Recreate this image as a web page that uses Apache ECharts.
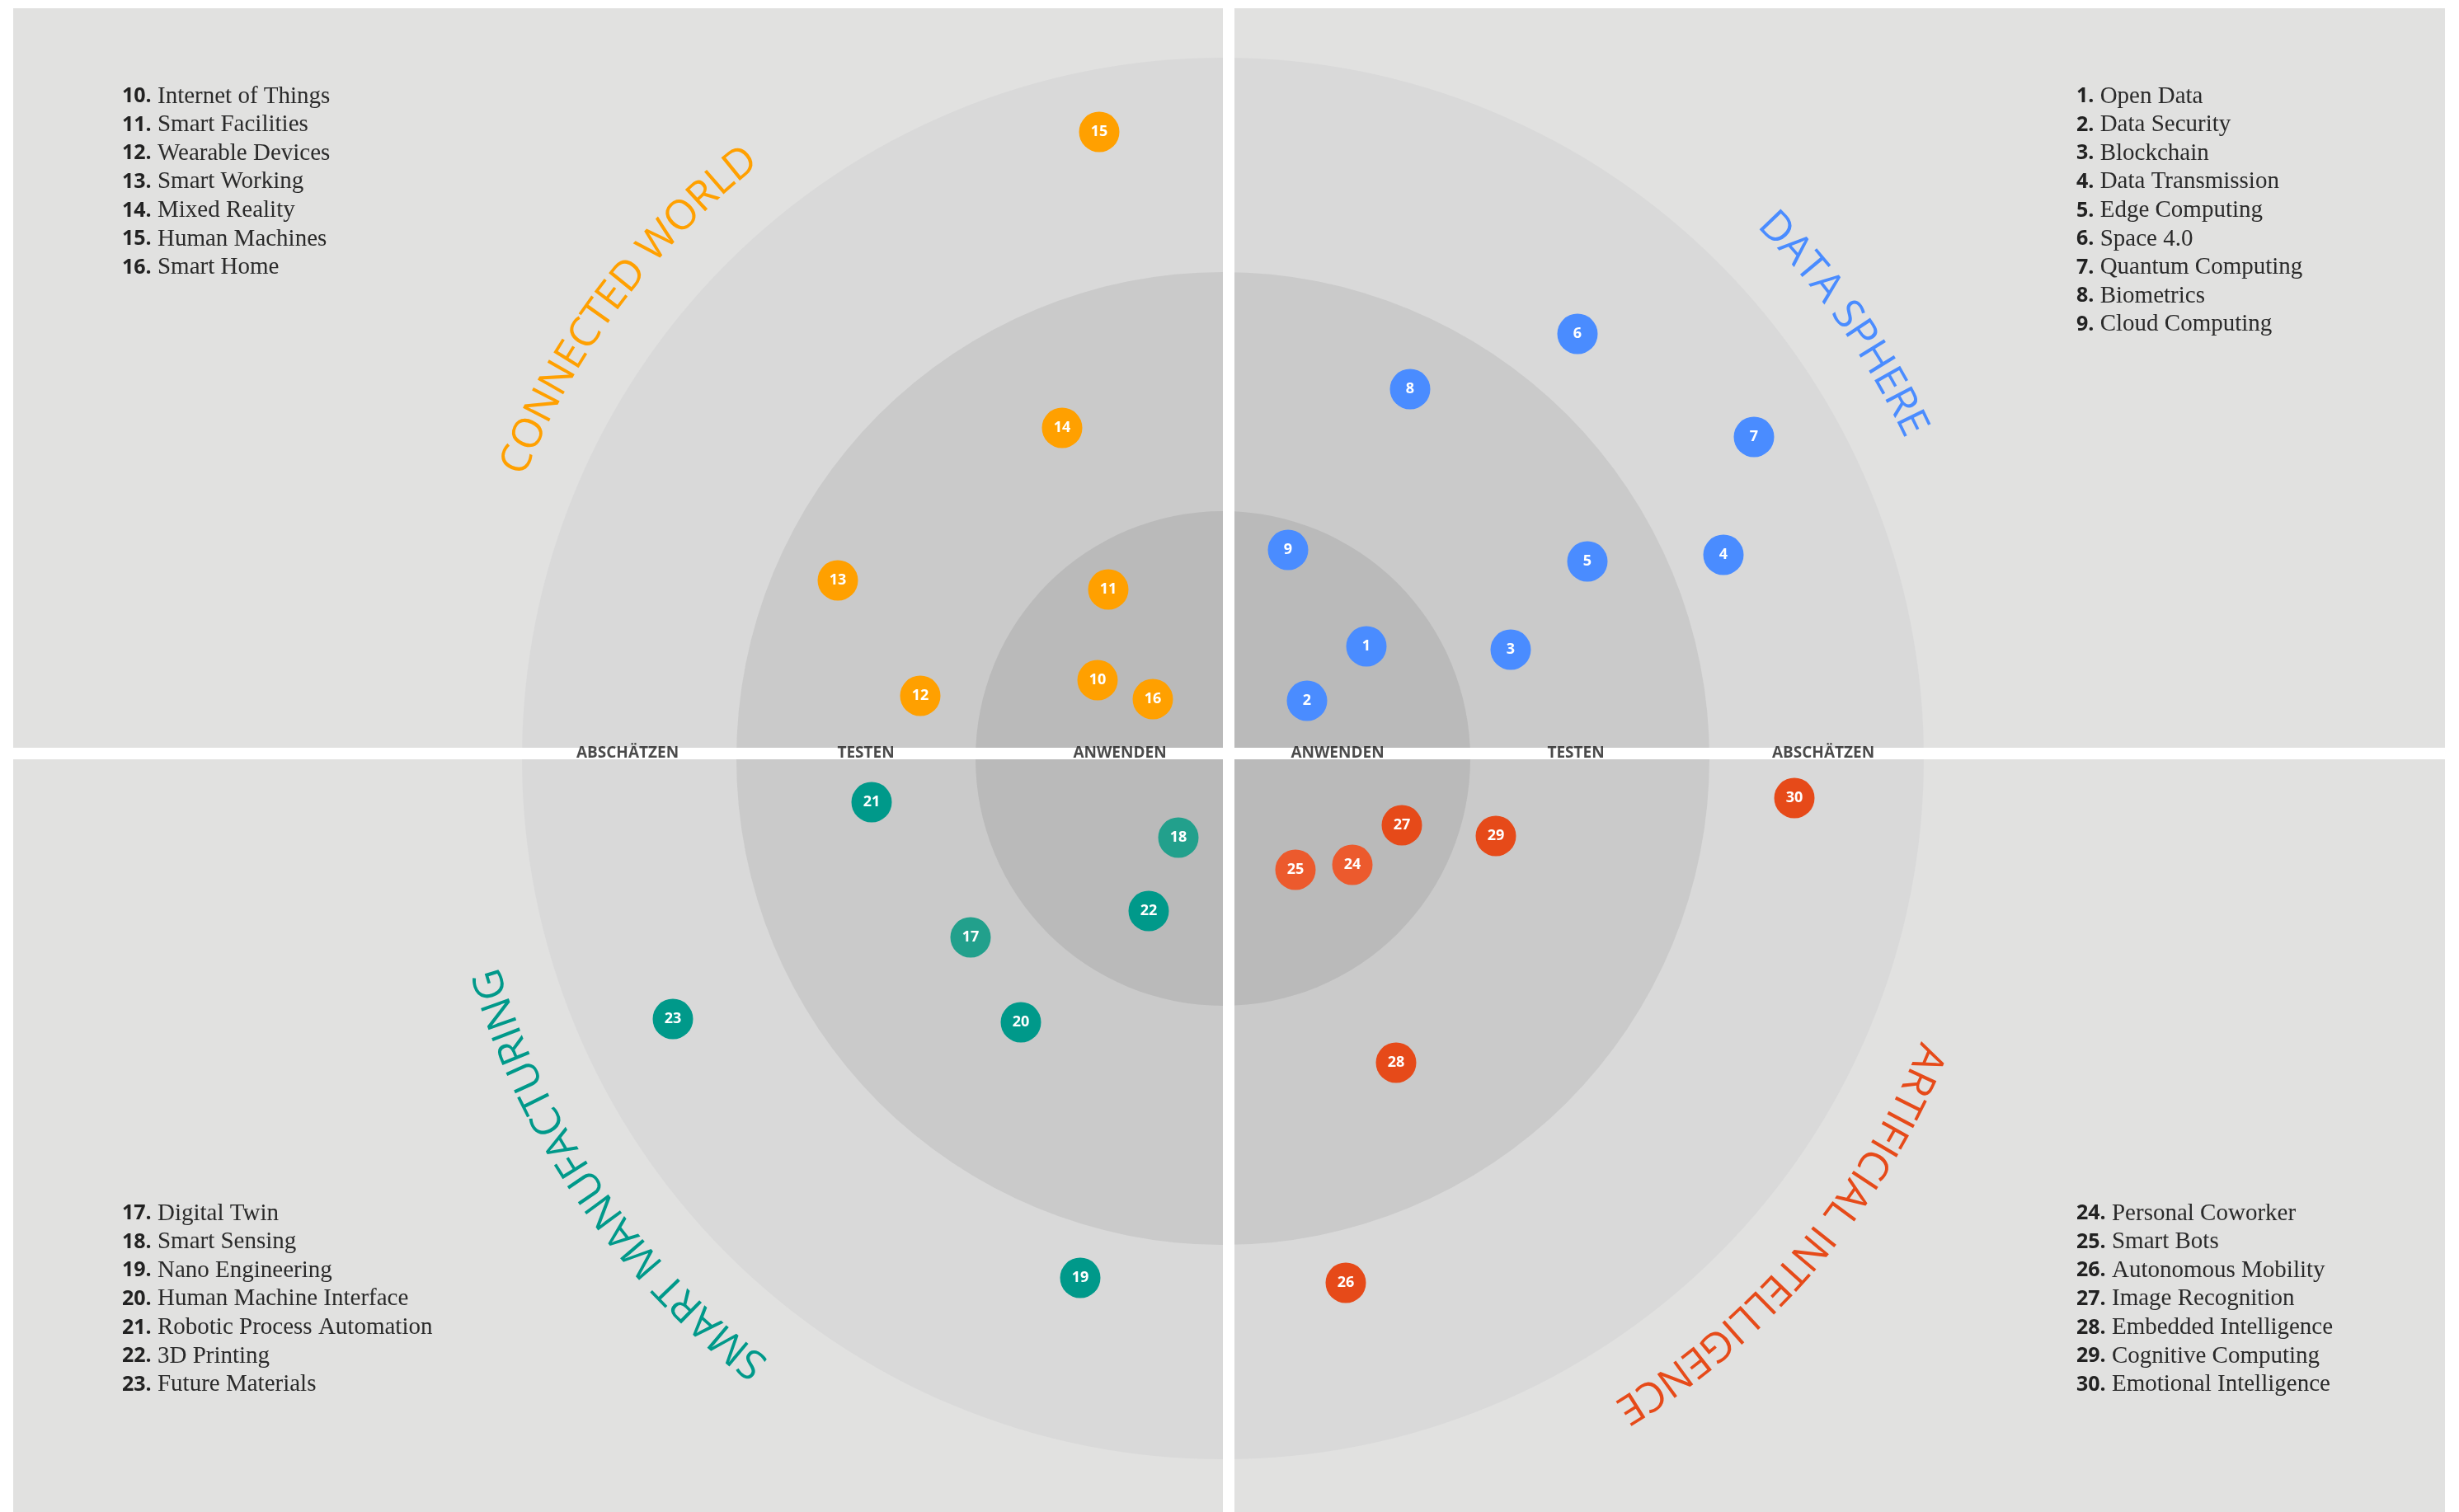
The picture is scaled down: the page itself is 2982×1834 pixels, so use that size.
<!DOCTYPE html>
<html>
<head>
<meta charset="utf-8">
<title>Technologie-Radar</title>
<script src="https://cdn.jsdelivr.net/npm/echarts@6/dist/echarts.min.js"></script>
<style>
  html, body { margin: 0; padding: 0; background: #fff; }
  #chart { width: 2982px; height: 1834px; }
</style>
</head>
<body>
<div id="chart"></div>
<script>
// Radar-Daten: Werte sind Abstand zur Kreismitte (x nach rechts, y nach oben)

// Ringe (aussen -> innen) und Stufen-Beschriftungen
const ringRadii = [850, 590, 300]
const stageLabels = ['ABSCHÄTZEN', 'TESTEN', 'ANWENDEN', 'ANWENDEN', 'TESTEN', 'ABSCHÄTZEN']
const stageX = [-722, -433, -125, 139, 428, 728]

// Data Sphere
const dataSphereIds = [1, 2, 3, 4, 5, 6, 7, 8, 9]
const dataSphereNames = ['Open Data', 'Data Security', 'Blockchain', 'Data Transmission', 'Edge Computing',
  'Space 4.0', 'Quantum Computing', 'Biometrics', 'Cloud Computing']
const dataSphereX = [174, 102, 349, 607, 442, 430, 644, 227, 79]
const dataSphereY = [136, 70, 132, 247, 239, 515, 390, 448, 253]

// Connected World
const connectedIds = [10, 11, 12, 13, 14, 15, 16]
const connectedNames = ['Internet of Things', 'Smart Facilities', 'Wearable Devices', 'Smart Working',
  'Mixed Reality', 'Human Machines', 'Smart Home']
const connectedX = [-152, -139, -367, -467, -195, -150, -85]
const connectedY = [95, 205, 76, 216, 401, 760, 72]

// Smart Manufacturing
const manufacturingIds = [17, 18, 19, 20, 21, 22, 23]
const manufacturingNames = ['Digital Twin', 'Smart Sensing', 'Nano Engineering', 'Human Machine Interface',
  'Robotic Process Automation', '3D Printing', 'Future Materials']
const manufacturingX = [-306, -54, -173, -245, -426, -90, -667]
const manufacturingY = [-217, -96, -630, -320, -53, -185, -316]

// Artificial Intelligence
const aiIds = [24, 25, 26, 27, 28, 29, 30]
const aiNames = ['Personal Coworker', 'Smart Bots', 'Autonomous Mobility', 'Image Recognition',
  'Embedded Intelligence', 'Cognitive Computing', 'Emotional Intelligence']
const aiX = [157, 88, 149, 217, 210, 331, 693]
const aiY = [-129, -135, -636, -81, -369, -94, -48]

// etwas hellere Punkte im Original
const lighterIds = [17, 18, 24, 25]

const ringColors = ['#d9d9d9', '#cacaca', '#bababa']
const TITLE_FONT = '50px "Open Sans"'
const TITLE_R = 928

const quadrants = [
  { title: 'DATA SPHERE', ids: dataSphereIds, names: dataSphereNames, xs: dataSphereX, ys: dataSphereY,
    color: '#4a8cff', light: '#4a8cff', angle: 35, legend: [2518, 117] },
  { title: 'CONNECTED WORLD', ids: connectedIds, names: connectedNames, xs: connectedX, ys: connectedY,
    color: '#ffa000', light: '#ffa000', angle: 143, legend: [148, 117] },
  { title: 'SMART MANUFACTURING', ids: manufacturingIds, names: manufacturingNames, xs: manufacturingX, ys: manufacturingY,
    color: '#00998a', light: '#22a08c', angle: 214.5, legend: [148, 1472] },
  { title: 'ARTIFICIAL INTELLIGENCE', ids: aiIds, names: aiNames, xs: aiX, ys: aiY,
    color: '#e64a19', light: '#ec5a2d', angle: 319.6, legend: [2518, 1472] }
]

const cs = echarts.init(document.getElementById('chart'))

// Ringe als Kreise in Datenkoordinaten
const ringSeries = {
  type: 'custom',
  z: 1,
  silent: true,
  data: ringRadii.map(r => [r]),
  renderItem: (params, api) => {
    const c = api.coord([0, 0])
    const r = api.size([api.value(0), 0])[0]
    return { type: 'circle', shape: { cx: c[0], cy: c[1], r: r }, style: { fill: ringColors[params.dataIndex] } }
  }
}

// weisse Trennstreifen zwischen den Quadranten
const gapSeries = {
  type: 'custom',
  z: 2,
  silent: true,
  data: [[0]],
  renderItem: (params, api) => {
    const a = api.coord([0, 13])
    const b = api.coord([14, -1])
    return {
      type: 'group',
      children: [
        { type: 'rect', shape: { x: a[0], y: 0, width: b[0] - a[0], height: api.getHeight() }, style: { fill: '#fff' } },
        { type: 'rect', shape: { x: 0, y: a[1], width: api.getWidth(), height: b[1] - a[1] }, style: { fill: '#fff' } }
      ]
    }
  }
}

const stageSeries = {
  type: 'scatter',
  z: 3,
  silent: true,
  symbolSize: 0.1,
  itemStyle: { color: 'transparent' },
  data: stageX.map((x, i) => ({ value: [x, 6], name: stageLabels[i] })),
  label: {
    show: true, position: 'inside', formatter: '{b}',
    color: '#1e1e1e', fontFamily: 'Open Sans', fontWeight: 'bold', fontSize: 19
  }
}

const dotSeries = quadrants.map(q => ({
  type: 'scatter',
  name: q.title,
  z: 4,
  silent: true,
  symbolSize: 49,
  data: q.xs.map((x, i) => [x, q.ys[i], q.ids[i]]),
  itemStyle: { color: p => lighterIds.includes(p.data[2]) ? q.light : q.color, opacity: 1 },
  label: {
    show: true, position: 'inside', formatter: p => p.data[2],
    color: '#fff', fontFamily: 'Open Sans', fontWeight: 'bold', fontSize: 18
  }
}))

const option = {
  animation: false,
  grid: { left: 0, right: 0, top: 0, bottom: 0 },
  xAxis: { type: 'value', min: -1483, max: 1499, show: false },
  yAxis: { type: 'value', min: -914, max: 920, show: false },
  series: [ringSeries, gapSeries, stageSeries].concat(dotSeries)
}
cs.setOption(option)

// Titel entlang des Kreises und Legenden
const ctx = document.createElement('canvas').getContext('2d')
ctx.font = TITLE_FONT
const center = cs.convertToPixel({ gridIndex: 0 }, [0, 0])

function arcText(text, color, midDeg) {
  const chars = [...text]
  const widths = chars.map(ch => ctx.measureText(ch).width)
  const total = widths.reduce((a, b) => a + b, 0)
  const start = midDeg * Math.PI / 180 + total / 2 / TITLE_R
  let s = 0
  return chars.map((ch, i) => {
    const th = start - (s + widths[i] / 2) / TITLE_R
    s += widths[i]
    return {
      type: 'text', z: 5, silent: true,
      x: center[0] + TITLE_R * Math.cos(th),
      y: center[1] - TITLE_R * Math.sin(th),
      rotation: th - Math.PI / 2,
      style: { text: ch, fill: color, font: TITLE_FONT, align: 'center', verticalAlign: 'middle',
        textAlign: 'center', textVerticalAlign: 'middle' }
    }
  })
}

function legendLines(q) {
  return q.names.map((n, i) => ({
    type: 'text', z: 5, silent: true,
    x: q.legend[0],
    y: q.legend[1] + i * 34.6,
    style: {
      text: '{n|' + q.ids[i] + '.}{t| ' + n + '}',
      verticalAlign: 'middle', textVerticalAlign: 'middle',
      rich: {
        n: { fontFamily: 'Open Sans', fontWeight: 'bold', fontSize: 25, fill: '#222', color: '#222' },
        t: { fontFamily: 'Liberation Serif', fontSize: 29, fill: '#2a2a2a', color: '#2a2a2a' }
      }
    }
  }))
}

let elements = [
  { type: 'rect', z: 0, silent: true, shape: { x: 16, y: 10, width: 2949, height: 1824 }, style: { fill: '#e1e1e0' } }
]
quadrants.forEach(q => {
  elements = elements.concat(arcText(q.title, q.color, q.angle), legendLines(q))
})
cs.setOption({ graphic: { elements: elements } })
</script>
</body>
</html>
